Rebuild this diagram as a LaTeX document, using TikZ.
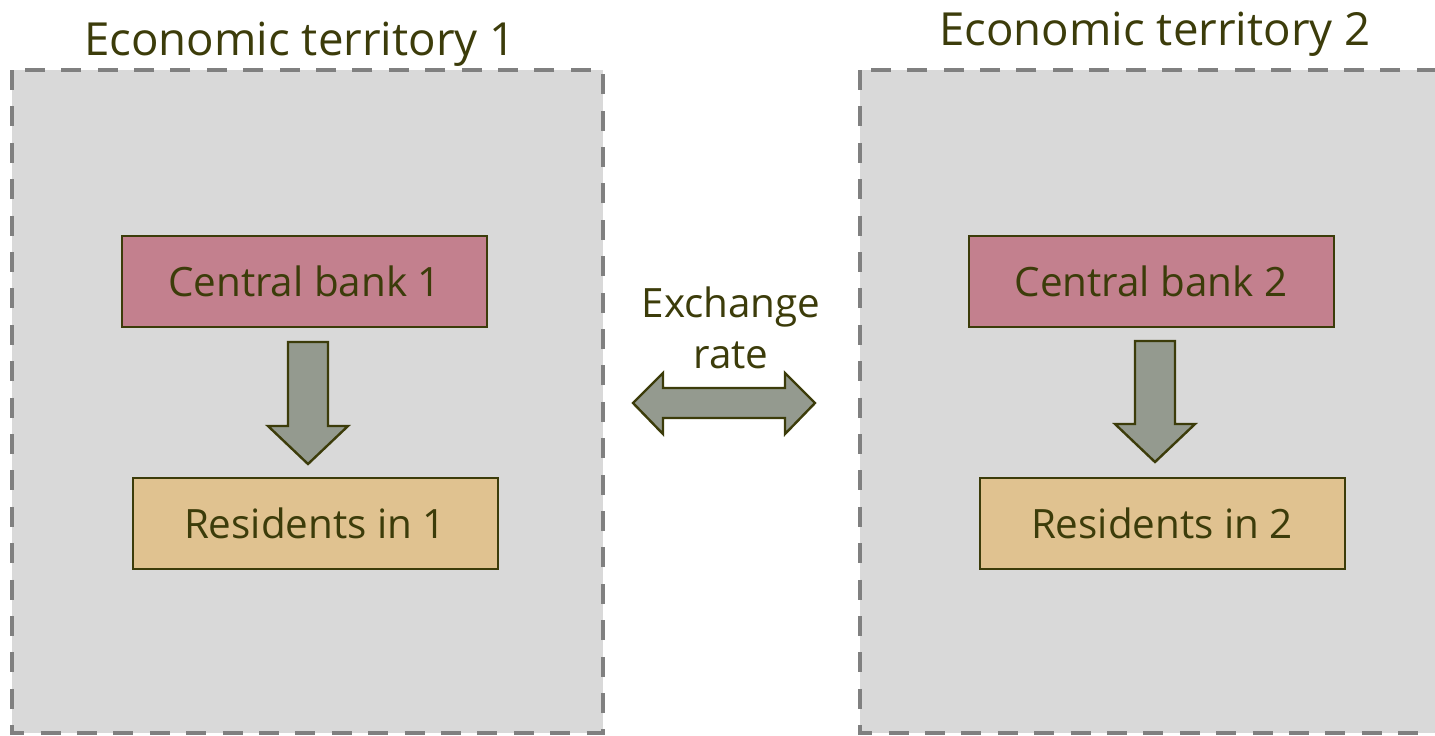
\documentclass[tikz,border=0pt]{standalone}
\usepackage{fontspec}
\setmainfont{Open Sans}
\usetikzlibrary{positioning}
\definecolor{txt}{HTML}{3C3C0A}
\definecolor{terrfill}{HTML}{D9D9D9}
\definecolor{terrdash}{HTML}{808080}
\definecolor{cbfill}{HTML}{C3808E}
\definecolor{resfill}{HTML}{E0C290}
\definecolor{arrfill}{HTML}{949A8F}
\tikzset{
  territory/.style={draw=terrdash, fill=terrfill, line width=2.25pt, dash pattern=on 10pt off 8.2pt},
  title/.style={text=txt, font=\fontsize{22.8}{28}\selectfont, anchor=base, inner sep=0pt},
  cbbox/.style={draw=txt, fill=cbfill, line width=1pt, minimum width=182.5pt, minimum height=45.5pt, text=txt, font=\fontsize{20.2}{25}\selectfont, inner sep=0pt},
  resbox/.style={cbbox, fill=resfill},
  blockarrow/.style={draw=txt, fill=arrfill, line width=1.2pt, line join=miter},
  lbl/.style={text=txt, font=\fontsize{20.2}{25}\selectfont, align=center, inner sep=0pt}
}
\begin{document}
\begin{tikzpicture}[x=0.5pt, y=-0.5pt]
\useasboundingbox (0,0) rectangle (1435,735);
% territories
\draw[territory] (12,70) rectangle (603,733);
\draw[territory] (860,70) rectangle (1450,733);
\node[title] (t1) at (300,55) {Economic territory 1};
\node[title] (t2) at (1155,45) {Economic territory 2};
% boxes
\node[cbbox] (cb1) at (304.5,281.5) {Central bank 1};
\node[resbox] (r1) at (315,523.5) {Residents in 1};
\node[cbbox] (cb2) at (1151,281.5) {Central bank 2};
\node[resbox] (r2) at (1162,523.5) {Residents in 2};
% down arrows
\draw[blockarrow] (288,342) -- (328,342) -- (328,426) -- (348,426) -- (308,464) -- (268,426) -- (288,426) -- cycle;
\draw[blockarrow] (1135,341) -- (1175,341) -- (1175,424) -- (1195,424) -- (1155,462) -- (1115,424) -- (1135,424) -- cycle;
% exchange rate
\node[lbl, anchor=base] (ex) at (731,317) {Exchange};
\node[lbl, anchor=base] (rate) at (731,368) {rate};
\draw[blockarrow] (633,403) -- (663,373) -- (663,388) -- (785,388) -- (785,373) -- (815,403) -- (785,434) -- (785,418) -- (663,418) -- (663,434) -- cycle;
\end{tikzpicture}
\end{document}
